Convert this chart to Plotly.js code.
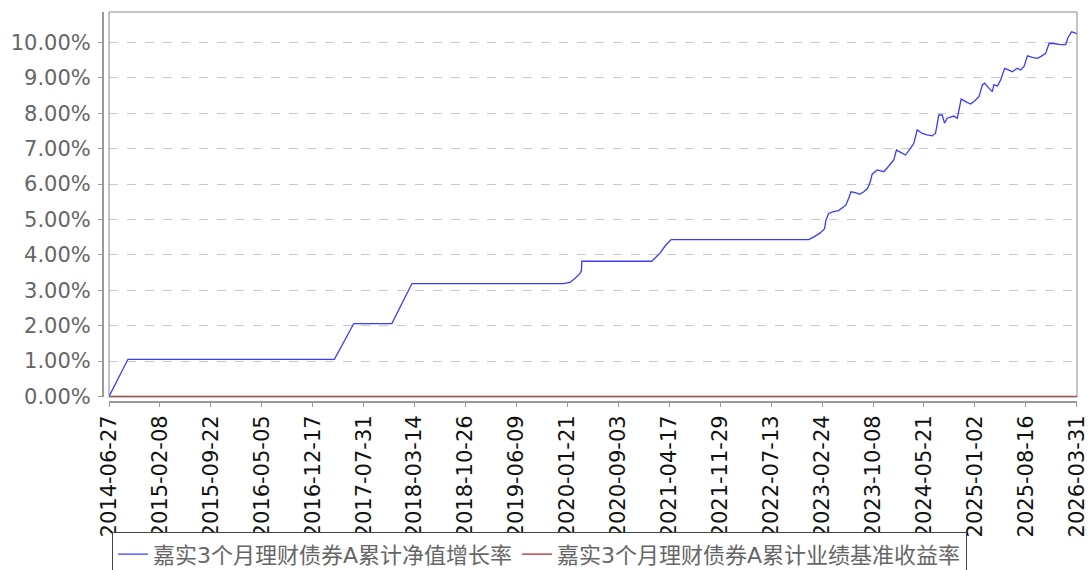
<!DOCTYPE html>
<html>
<head>
<meta charset="utf-8">
<script src="https://cdn.plot.ly/plotly-3.0.1.min.js"></script>
<style>html,body{margin:0;padding:0;background:#fff;}#chart{width:1089px;height:570px;}</style>
</head>
<body>
<div id="chart"></div>
<script>
const seriesNames = ["嘉实3个月理财债券A累计净值增长率", "嘉实3个月理财债券A累计业绩基准收益率"];

const tickLabels = ["2014-06-27","2015-02-08","2015-09-22","2016-05-05","2016-12-17","2017-07-31",
  "2018-03-14","2018-10-26","2019-06-09","2020-01-21","2020-09-03","2021-04-17","2021-11-29",
  "2022-07-13","2023-02-24","2023-10-08","2024-05-21","2025-01-02","2025-08-16","2026-03-31"];

const navDates = ["2014-06-27","2014-09-19","2017-03-23","2017-06-17","2017-12-03","2018-03-02",
  "2020-01-02","2020-02-01","2020-02-23","2020-03-07","2020-03-16","2020-03-23","2020-03-25",
  "2021-01-29","2021-03-07","2021-03-29","2021-04-25","2022-12-26","2023-01-17","2023-02-16",
  "2023-03-07","2023-03-13","2023-03-25","2023-04-16","2023-05-08","2023-05-31","2023-06-10",
  "2023-06-22","2023-07-02","2023-07-22","2023-08-10","2023-08-28","2023-09-14","2023-09-26",
  "2023-10-04","2023-10-26","2023-11-25","2023-12-17","2024-01-08","2024-01-20","2024-02-29",
  "2024-03-22","2024-04-06","2024-04-21","2024-05-13","2024-06-04","2024-06-26","2024-07-11",
  "2024-07-26","2024-08-10","2024-08-20","2024-09-01","2024-09-30","2024-10-16","2024-10-23",
  "2024-11-02","2024-11-22","2024-12-14","2024-12-29","2025-01-20","2025-02-04","2025-02-14",
  "2025-03-05","2025-03-20","2025-03-27","2025-04-12","2025-04-26","2025-05-14","2025-06-02",
  "2025-06-17","2025-07-09","2025-07-24","2025-08-08","2025-08-23","2025-09-14","2025-10-06",
  "2025-10-21","2025-11-12","2025-11-27","2025-12-19","2026-01-18","2026-02-09","2026-02-19",
  "2026-03-07","2026-03-19","2026-03-31"];
const navValues = [0.00,1.05,1.05,2.06,2.06,3.19,
  3.19,3.22,3.33,3.40,3.47,3.55,3.82,
  3.82,4.05,4.25,4.43,4.43,4.50,4.62,
  4.74,4.98,5.17,5.22,5.25,5.36,5.41,
  5.60,5.78,5.76,5.71,5.78,5.88,6.07,
  6.28,6.40,6.35,6.51,6.68,6.96,6.82,
  7.01,7.15,7.53,7.43,7.39,7.36,7.43,
  7.95,7.95,7.72,7.86,7.92,7.86,8.09,
  8.40,8.33,8.26,8.33,8.47,8.80,8.85,
  8.71,8.61,8.80,8.77,8.94,9.27,9.22,
  9.17,9.27,9.22,9.32,9.62,9.58,9.55,
  9.60,9.69,9.97,9.97,9.94,9.94,10.14,
  10.30,10.28,10.24];

const benchDates = ["2014-06-27","2026-03-31"];
const benchValues = [0.00, 0.00];

const traces = [
  {x: navDates, y: navValues, name: seriesNames[0], type: "scatter", mode: "lines",
   line: {color: "#3a3aff", width: 1.3}},
  {x: benchDates, y: benchValues, name: seriesNames[1], type: "scatter", mode: "lines",
   line: {color: "#b22222", width: 1.3}}
];

const layout = {
  width: 1089, height: 570,
  margin: {l: 103, r: 12, t: 12, b: 168},
  paper_bgcolor: "#ffffff", plot_bgcolor: "#ffffff",
  font: {family: "DejaVu Sans, Noto Sans CJK SC, sans-serif", color: "#666666"},
  showlegend: true,
  xaxis: {
    type: "date",
    domain: [0.0062, 1],
    anchor: "free", position: 0,
    range: ["2014-06-27", "2026-03-31"],
    tickmode: "array", tickvals: tickLabels, ticktext: tickLabels,
    tickangle: -90,
    tickfont: {size: 21, color: "#111111", family: "DejaVu Sans"},
    showgrid: false, zeroline: false,
    showline: true, linecolor: "#999999", linewidth: 2,
    ticks: "outside", ticklen: 4, tickcolor: "#999999", tickwidth: 1
  },
  yaxis: {
    domain: [0.0128, 1],
    anchor: "free", position: 0,
    range: [-0.015, 10.86],
    tickmode: "array",
    tickvals: [0,1,2,3,4,5,6,7,8,9,10],
    ticktext: ["0.00%","1.00%","2.00%","3.00%","4.00%","5.00%","6.00%","7.00%","8.00%","9.00%","10.00%"],
    tickfont: {size: 21, color: "#666666", family: "DejaVu Sans"},
    ticklabelstandoff: 3,
    showgrid: true, gridcolor: "#c8c8c8", griddash: "dash", gridwidth: 1,
    zeroline: false,
    showline: true, linecolor: "#999999", linewidth: 2,
    ticks: "outside", ticklen: 4, tickcolor: "#999999", tickwidth: 1
  },
  shapes: [
    {type: "rect", xref: "x domain", yref: "y domain", x0: 0, x1: 1, y0: 0, y1: 1,
     line: {color: "#888888", width: 1}, fillcolor: "rgba(0,0,0,0)", layer: "above"}
  ],
  legend: {
    orientation: "h",
    xref: "container", yref: "container",
    x: 0.1028, y: 0.066, xanchor: "left", yanchor: "top",
    font: {size: 22, color: "#666666", family: "DejaVu Sans, Noto Sans CJK SC"},
    bordercolor: "#444444", borderwidth: 1,
    bgcolor: "#ffffff",
    itemwidth: 30, tracegroupgap: 0
  }
};

Plotly.newPlot("chart", traces, layout, {displayModeBar: false, staticPlot: true});
</script>
</body>
</html>
